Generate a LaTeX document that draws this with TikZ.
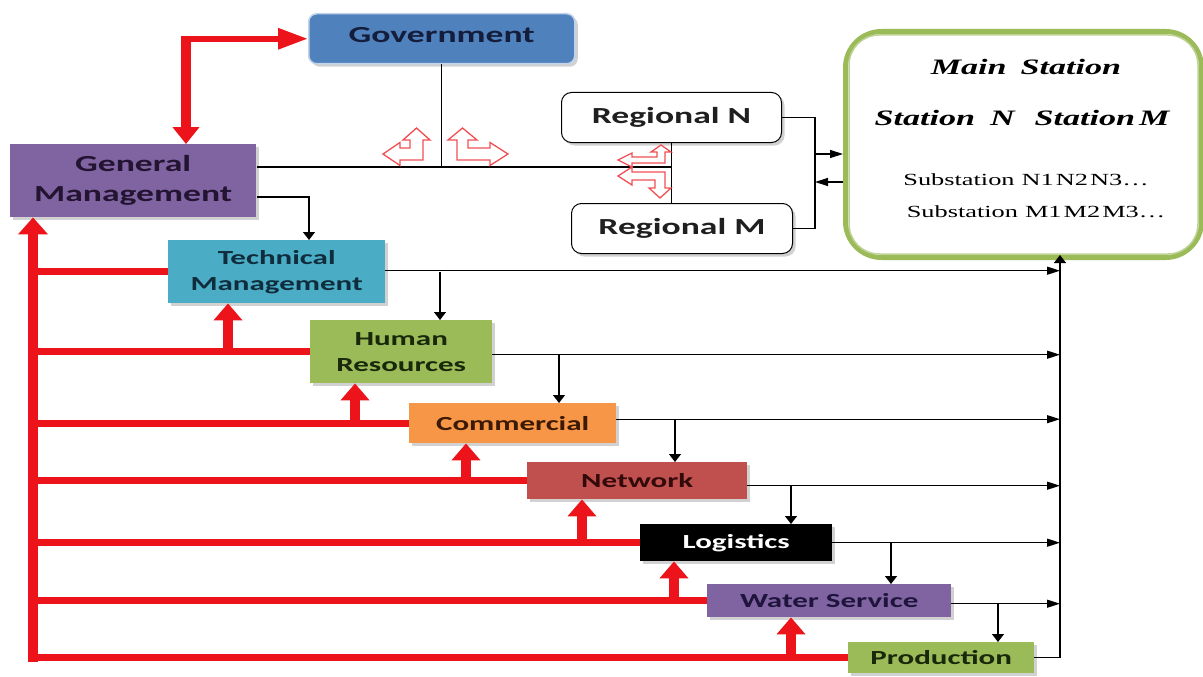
\documentclass[tikz,border=0pt]{standalone}
\usepackage{fontspec}
\newfontfamily\lblfamily{Carlito}[FakeStretch=1.55]
\newfontfamily\serfamily{Liberation Serif}[FakeStretch=1.55]
\usetikzlibrary{arrows.meta,shadows}
\definecolor{govblue}{RGB}{79,129,189}
\definecolor{gmpurple}{RGB}{128,100,162}
\definecolor{techblue}{RGB}{75,172,198}
\definecolor{hrgreen}{RGB}{155,187,89}
\definecolor{comorange}{RGB}{247,150,70}
\definecolor{netred}{RGB}{192,80,77}
\definecolor{arrred}{RGB}{236,20,26}
\definecolor{mainline}{RGB}{155,187,89}
\definecolor{maininner}{RGB}{190,210,150}
\newcommand\bigLbl{\lblfamily\bfseries\fontsize{23}{30}\selectfont}
\newcommand\smallLbl{\lblfamily\bfseries\fontsize{20}{26}\selectfont}
% L-shaped double arrow outline: #1 horiz length, #2 horiz head length, #3 horiz arm thickness,
% #4 horiz head overhang, #5 vert length, #6 vert head length, #7 vert arm thickness, #8 vert head overhang
\newcommand\BentArrowPath[8]{(0,0) -- ({#1-#2},0) -- ({#1-#2},#4) -- (#1,{-#3/2})
  -- ({#1-#2},{-#3-#4}) -- ({#1-#2},-#3) -- (#7,-#3) -- (#7,{-(#5-#6)})
  -- ({#7+#8},{-(#5-#6)}) -- ({#7/2},-#5) -- (-#8,{-(#5-#6)}) -- (0,{-(#5-#6)}) -- cycle}
\begin{document}
\begin{tikzpicture}[x=1pt, y=-1pt,
  box/.style={anchor=north west, inner sep=0pt, align=center, text=black!88,
    drop shadow={shadow xshift=3pt, shadow yshift=-3pt, fill=black!40, opacity=.45}},
  conn/.style={draw=black, line width=1.2pt},
  arrR/.style={conn, -{Triangle[length=13pt,width=8pt]}},
  arrD/.style={conn, -{Triangle[length=8pt,width=12pt]}},
  redH/.style={draw=arrred, line width=7pt},
  redV/.style={draw=arrred, line width=10pt},
  redUp/.style={redV, -{Triangle[length=17pt,width=28pt]}},
  hollow/.style={draw=arrred!75, fill=white, line width=1.3pt, line join=miter},
  mainfont/.style={font=\serfamily\bfseries\itshape\fontsize{22}{26}\selectfont},
  subfont/.style={font=\serfamily\fontsize{17}{20}\selectfont}
]
\fill[white] (0,0) rectangle (1203,677);
\useasboundingbox (0,0) rectangle (1203,677);

% ---------- boxes ----------
\node[box, fill=govblue, draw=govblue!35, line width=1.5pt, rounded corners=8pt,
  minimum width=266pt, minimum height=50pt, font=\bigLbl, text={rgb,255:red,20;green,30;blue,60}]
  (gov) at (308,13) {\raisebox{8pt}{Government}};
\node[box, fill=gmpurple, minimum width=246pt, minimum height=73pt, font=\bigLbl,
  text={rgb,255:red,35;green,20;blue,50}] (gm) at (10,144) {General\\Management};
\node[box, fill=techblue, minimum width=217pt, minimum height=63pt, font=\smallLbl,
  text={rgb,255:red,15;green,45;blue,60}] (tech) at (168,240) {Technical\\Management};
\node[box, fill=hrgreen, minimum width=182pt, minimum height=63pt, font=\smallLbl,
  text={rgb,255:red,25;green,40;blue,10}] (hr) at (310,320) {Human\\Resources};
\node[box, fill=comorange, minimum width=207pt, minimum height=40pt, font=\smallLbl,
  text={rgb,255:red,60;green,25;blue,5}] (com) at (409,403) {Commercial};
\node[box, fill=netred, minimum width=220pt, minimum height=37pt, font=\smallLbl,
  text={rgb,255:red,50;green,10;blue,10}] (net) at (527,462) {Network};
\node[box, fill=black, minimum width=192pt, minimum height=37pt, font=\smallLbl,
  text=white] (log) at (640,524) {Logistics};
\node[box, fill=gmpurple, minimum width=244pt, minimum height=33pt, font=\smallLbl,
  text={rgb,255:red,30;green,20;blue,60}] (water) at (707,584) {Water Service};
\node[box, fill=hrgreen, minimum width=186pt, minimum height=31pt, font=\smallLbl,
  text={rgb,255:red,25;green,40;blue,10}] (prod) at (848,642) {Production};

\node[box, fill=white, draw=black, line width=1pt, rounded corners=10pt,
  minimum width=220pt, minimum height=50pt, font=\bigLbl] (regN) at (561,92) {Regional N};
\node[box, fill=white, draw=black, line width=1pt, rounded corners=10pt,
  minimum width=221pt, minimum height=50pt, font=\bigLbl] (regM) at (571,203) {Regional M};

\node[anchor=north west, draw=mainline, line width=5pt, rounded corners=36pt, fill=white,
  minimum width=356pt, minimum height=226pt, inner sep=0pt] (main) at (843,29) {};
\draw[maininner, line width=1.5pt, rounded corners=30pt]
  ([shift={(6pt,-6pt)}]main.north west) rectangle ([shift={(-6pt,6pt)}]main.south east);
\node[mainfont] (mst) at (1026,67) {Main\hspace{14pt}Station};
\node[mainfont] (stn) at (1022,118) {Station\hspace{15pt}N\hspace{20pt}Station\hspace{4pt}M};
\node[subfont] (sbn) at (1026,180) {Substation\hspace{7pt}N1\hspace{2pt}N2\hspace{2pt}N3\ldots};
\node[subfont] (sbm) at (1036,212) {Substation\hspace{7pt}M1\hspace{2pt}M2\hspace{2pt}M3\ldots};

% ---------- helper coordinates ----------
\coordinate (gml) at (257,167);
\coordinate (gm2) at (257,197);
\coordinate (bus) at (815,154);
\coordinate (bus2) at (815,182);
\coordinate (vt) at (1060,255);
\coordinate (b1) at (440,0);
\coordinate (b2) at (559,0);
\coordinate (b3) at (675,0);
\coordinate (b4) at (791,0);
\coordinate (b5) at (891,0);
\coordinate (b6) at (998,0);
\coordinate (rv) at (33,662);
\coordinate (rvl) at (29,0);
\coordinate (u1) at (228,0);
\coordinate (u2) at (355,0);
\coordinate (u3) at (466,0);
\coordinate (u4) at (582,0);
\coordinate (u5) at (674,0);
\coordinate (u6) at (791,0);
\coordinate (ga) at (186,0);
\coordinate (gc) at (ga |- gov.west);

% ---------- black connectors ----------
\draw[conn] (gml) -- (regN.south |- gml);
\draw[conn] (gov.south) -- (gov.south |- gml);
\draw[conn] (regN.south) -- (regN.south |- regM.north);
\draw[conn] (regN.east) -| (bus) |- (regM.east);
\draw[arrR] (bus) -- (bus -| main.west);
\draw[arrR] (bus2 -| main.west) -- (bus2);
\draw[arrD] (gm2) -| (309,240);

\draw[arrR] ([yshift=1pt]tech.east) -- ([yshift=1pt]tech.east -| vt);
\draw[arrD] (b1 |- tech.east) -- (b1 |- hr.north);
\draw[arrR] ([yshift=-3pt]hr.east) -- ([yshift=-3pt]hr.east -| vt);
\draw[arrD] ([yshift=-3pt]b2 |- hr.east) -- (b2 |- com.north);
\draw[arrR] ([yshift=4pt]com.east) -- ([yshift=4pt]com.east -| vt);
\draw[arrD] ([yshift=4pt]b3 |- com.east) -- (b3 |- net.north);
\draw[arrR] ([yshift=-5pt]net.east) -- ([yshift=-5pt]net.east -| vt);
\draw[arrD] ([yshift=-5pt]b4 |- net.east) -- (b4 |- log.north);
\draw[arrR] (log.east) -- (log.east -| vt);
\draw[arrD] (b5 |- log.east) -- (b5 |- water.north);
\draw[arrR] ([yshift=-3pt]water.east) -- ([yshift=-3pt]water.east -| vt);
\draw[arrD] ([yshift=-3pt]b6 |- water.east) -- (b6 |- prod.north);
\draw[conn, -{Triangle[length=8pt,width=12pt]}] (prod.east) -| (vt);

% ---------- red connectors ----------
\draw[redV, -{Triangle[length=17pt,width=29pt]}] (rv) -- (rv |- gm.south);
\draw[redH] (tech.west) -- (tech.west -| rvl);
\draw[redH] (hr.west) -- (hr.west -| rvl);
\draw[redH] (com.west) -- (com.west -| rvl);
\draw[redH] (net.west) -- (net.west -| rvl);
\draw[redH] (log.west) -- (log.west -| rvl);
\draw[redH] (water.west) -- (water.west -| rvl);
\draw[redH] (prod.west) -- (prod.west -| rvl);

\draw[redUp] (u1 |- hr.west) -- (u1 |- tech.south);
\draw[redUp] (u2 |- com.west) -- (u2 |- hr.south);
\draw[redUp] (u3 |- net.west) -- (u3 |- com.south);
\draw[redUp] (u4 |- log.west) -- (u4 |- net.south);
\draw[redUp] (u5 |- water.west) -- (u5 |- log.south);
\draw[redUp] (u6 |- prod.west) -- (u6 |- water.south);

\draw[redV, {Triangle[length=17pt,width=26pt]}-] (ga |- gm.north) -- ([yshift=3pt]gc);
\draw[draw=arrred, line width=6pt, -{Triangle[length=30pt,width=20pt]}] ([xshift=-5pt]gc) -- (gov.west);

% ---------- hollow bent arrows ----------
\draw[hollow, shift={(423,160)}, xscale=-1] \BentArrowPath{40}{17}{12}{5.5}{32}{12}{13}{7};
\draw[hollow, shift={(457,160)}] \BentArrowPath{51}{18}{12}{5.5}{32}{12}{11}{9};
\draw[hollow, shift={(665,163)}, xscale=-1] \BentArrowPath{47}{14}{6}{4}{18}{7}{8}{6};
\draw[hollow, shift={(665,172)}, xscale=-1, yscale=-1] \BentArrowPath{47}{14}{8}{5}{26}{10}{10}{6};
\end{tikzpicture}
\end{document}
